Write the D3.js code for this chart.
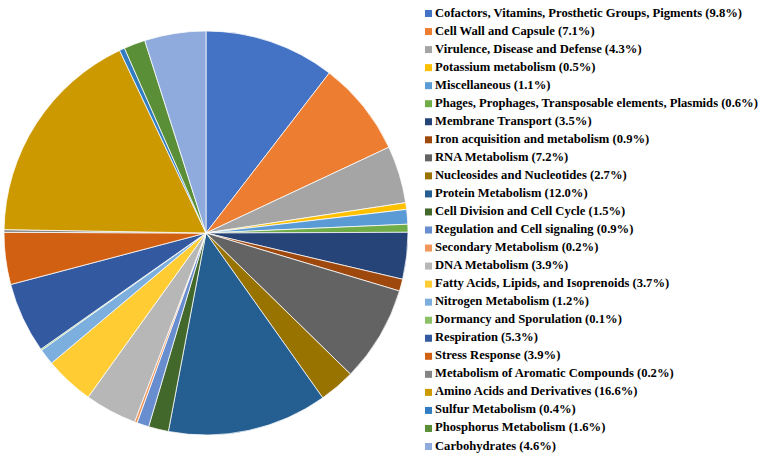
<!DOCTYPE html>
<html>
<head>
<meta charset="utf-8">
<script src="https://cdn.jsdelivr.net/npm/d3@7"></script>
<style>
  body { margin: 0; background: #fff; }
</style>
</head>
<body>
<div class="container"></div>
<script>
const width = 779;
const height = 454;

const categories = [
    'Cofactors, Vitamins, Prosthetic Groups, Pigments',
    'Cell Wall and Capsule',
    'Virulence, Disease and Defense',
    'Potassium metabolism',
    'Miscellaneous',
    'Phages, Prophages, Transposable elements, Plasmids',
    'Membrane Transport',
    'Iron acquisition and metabolism',
    'RNA Metabolism',
    'Nucleosides and Nucleotides',
    'Protein Metabolism',
    'Cell Division and Cell Cycle',
    'Regulation and Cell signaling',
    'Secondary Metabolism',
    'DNA Metabolism',
    'Fatty Acids, Lipids, and Isoprenoids',
    'Nitrogen Metabolism',
    'Dormancy and Sporulation',
    'Respiration',
    'Stress Response',
    'Metabolism of Aromatic Compounds',
    'Amino Acids and Derivatives',
    'Sulfur Metabolism',
    'Phosphorus Metabolism',
    'Carbohydrates'
]

const percents = [9.8, 7.1, 4.3, 0.5, 1.1, 0.6, 3.5, 0.9, 7.2, 2.7, 12.0, 1.5, 0.9,
    0.2, 3.9, 3.7, 1.2, 0.1, 5.3, 3.9, 0.2, 16.6, 0.4, 1.6, 4.6]

const colors = ['#4472C4', '#ED7D31', '#A5A5A5', '#FFC000', '#5B9BD5', '#70AD47',
    '#264478', '#9E480E', '#636363', '#997300', '#255E91', '#43682B', '#698ED0',
    '#F1975A', '#B7B7B7', '#FFCD33', '#7CAFDD', '#8CC168', '#335AA1', '#D26012',
    '#848484', '#CC9A00', '#327DC2', '#5A8F38', '#8FAADC']

const cx = 206, cy = 233, radius = 202;

var svg = d3.select('.container')
        .append('svg')
        .attr('width', width)
        .attr('height', height)

// slices start at 12 o'clock and go clockwise, in legend order
var pie = d3.pie().sort(null).value(d => d)
var arc = d3.arc().innerRadius(0).outerRadius(radius)

svg.append('g')
    .attr('transform', `translate(${cx}, ${cy})`)
    .selectAll('path')
    .data(pie(percents))
    .enter()
    .append('path')
    .attr('d', arc)
    .style('fill', (d, i) => colors[i])
    .style('stroke', '#fff')
    .style('stroke-width', 0.75)

// legend
var legendY = d3.scalePoint()
    .domain(d3.range(categories.length))
    .range([12, 445])

var legend = svg.append('g')
    .selectAll('g')
    .data(categories)
    .enter()
    .append('g')
    .attr('transform', (d, i) => `translate(425, ${legendY(i)})`)

legend.append('rect')
    .attr('x', 0)
    .attr('y', -2)
    .attr('width', 7)
    .attr('height', 7)
    .style('fill', (d, i) => colors[i])

legend.append('text')
    .attr('x', 10)
    .attr('y', 4.5)
    .attr('font-family', "'Liberation Serif', 'Times New Roman', serif")
    .attr('font-weight', 'bold')
    .attr('font-size', 12.6)
    .style('fill', '#000')
    .text((d, i) => `${d} (${percents[i].toFixed(1)}%)`)
</script>
</body>
</html>
